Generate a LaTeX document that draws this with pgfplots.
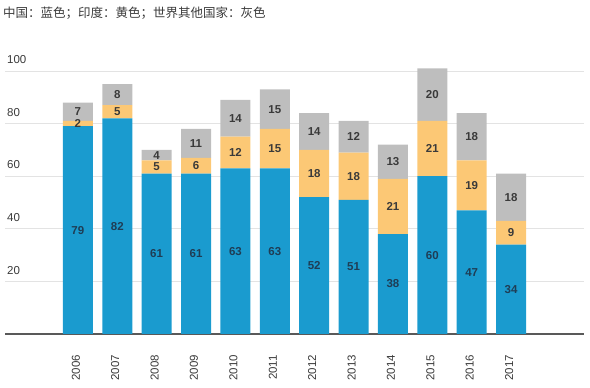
\documentclass[border=0pt]{standalone}
\usepackage{pgfplots}
\pgfplotsset{compat=1.18}
\usepackage{pgfplotstable}
\usepackage{fontspec}
\setmainfont{Liberation Sans}
\newfontfamily\cjk{Noto Sans CJK SC}
\definecolor{cnblue}{HTML}{1A9BCF}
\definecolor{inyellow}{HTML}{FCC875}
\definecolor{rwgray}{HTML}{BEBEBE}
\definecolor{gridc}{HTML}{E3E3E3}
\definecolor{txt}{HTML}{3A3A3A}
\definecolor{bluetxt}{HTML}{1F3D55}
\pgfplotstableread{
x year cn in rw
0 2006 79 2 7
1 2007 82 5 8
2 2008 61 5 4
3 2009 61 6 11
4 2010 63 12 14
5 2011 63 15 15
6 2012 52 18 14
7 2013 51 18 12
8 2014 38 21 13
9 2015 60 21 20
10 2016 47 19 18
11 2017 34 9 18
}\data
\begin{document}
\begin{tikzpicture}
\useasboundingbox (0,0) rectangle (590pt,388pt);
\begin{axis}[
  at={(5pt,54pt)}, anchor=south west,
  scale only axis, width=579pt, height=289.3pt,
  xmin=-1.85, xmax=12.85, ymin=0, ymax=110,
  ybar stacked, bar width=30pt,
  axis x line*=bottom, axis y line*=left,
  x axis line style={draw=black!65, line width=1.3pt},
  y axis line style={draw=none},
  major tick length=0pt,
  /pgf/number format/assume math mode=true,
  xtick={0,...,11}, xticklabels from table={\data}{year},
  ytick={20,40,60,80,100},
  ymajorgrids, grid style={gridc, line width=0.8pt},
  xticklabel style={xshift=-2pt, rotate=90, anchor=east, inner sep=0pt, font=\fontsize{11.5}{12}\selectfont, text=txt},
  xticklabel shift=21pt,
  yticklabel style={anchor=south west, inner sep=0pt, xshift=2pt, yshift=7pt, font=\fontsize{11.5}{12}\selectfont, text=txt},
  point meta=explicit symbolic,
  nodes near coords={\pgfplotspointmeta},
  every node near coord/.append style={anchor=center, font=\fontsize{11.5}{12}\selectfont\bfseries},
]
\addplot[fill=cnblue, draw=none,
  every node near coord/.append style={text=bluetxt}]
  table[x=x, y=cn, meta=cn]{\data};
\addplot[fill=inyellow, draw=none,
  every node near coord/.append style={text=txt}]
  table[x=x, y=in, meta=in]{\data};
\addplot[fill=rwgray, draw=none,
  every node near coord/.append style={text=txt}]
  table[x=x, y=rw, meta=rw]{\data};
\end{axis}
\node[anchor=west, inner sep=0pt, text=txt, font=\cjk\fontsize{12.5}{13}\selectfont] at (3pt,375pt) {中国：蓝色；印度：黄色；世界其他国家：灰色};
\end{tikzpicture}
\end{document}
